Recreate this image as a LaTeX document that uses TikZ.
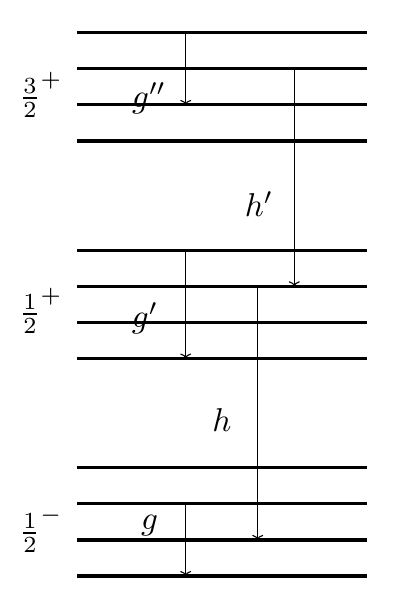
\documentclass[tikz,border=0pt]{standalone}
\usetikzlibrary{arrows.meta}
\begin{document}
\begin{tikzpicture}[x=1pt,y=-1pt,
  levelline/.style={line width=3.2pt},
  trans/.style={line width=1.1pt,-{To[length=5pt,width=11pt]}},
  lab/.style={scale=3.3,inner sep=0pt}]
\useasboundingbox (0,0) rectangle (408,599);
% levels
\foreach \n/\y in {1/32.7,2/68.8,3/104.9,4/141.0,5/250.2,6/286.3,7/322.4,8/358.5,9/467.7,10/503.8,11/539.9,12/576.0}{
  \coordinate (a\n) at (77,\y);
  \coordinate (b\n) at (367,\y);
  \draw[levelline] (a\n) -- (b\n);
}
% transitions
\draw[trans] ([xshift=108.7pt]a1) -- ([xshift=108.7pt]a3);
\draw[trans] ([xshift=217.3pt]a2) -- ([xshift=217.3pt]a6);
\draw[trans] ([xshift=108.7pt]a5) -- ([xshift=108.7pt]a8);
\draw[trans] ([xshift=180.7pt]a6) -- ([xshift=180.7pt]a11);
\draw[trans] ([xshift=108.7pt]a10) -- ([xshift=108.7pt]a12);
% labels
\node[lab] (gpp) at (149,98) {$g''$};
\node[lab] (hp) at (259,204) {$h'$};
\node[lab] (gp) at (145,318) {$g'$};
\node[lab] (h) at (222,420) {$h$};
\node[lab] (g) at (149.5,526) {$g$};
\node[lab] (j1) at (41,95) {$\frac{3}{2}^+$};
\node[lab] (j2) at (41,311) {$\frac{1}{2}^+$};
\node[lab] (j3) at (41,530) {$\frac{1}{2}^-$};
\end{tikzpicture}
\end{document}
